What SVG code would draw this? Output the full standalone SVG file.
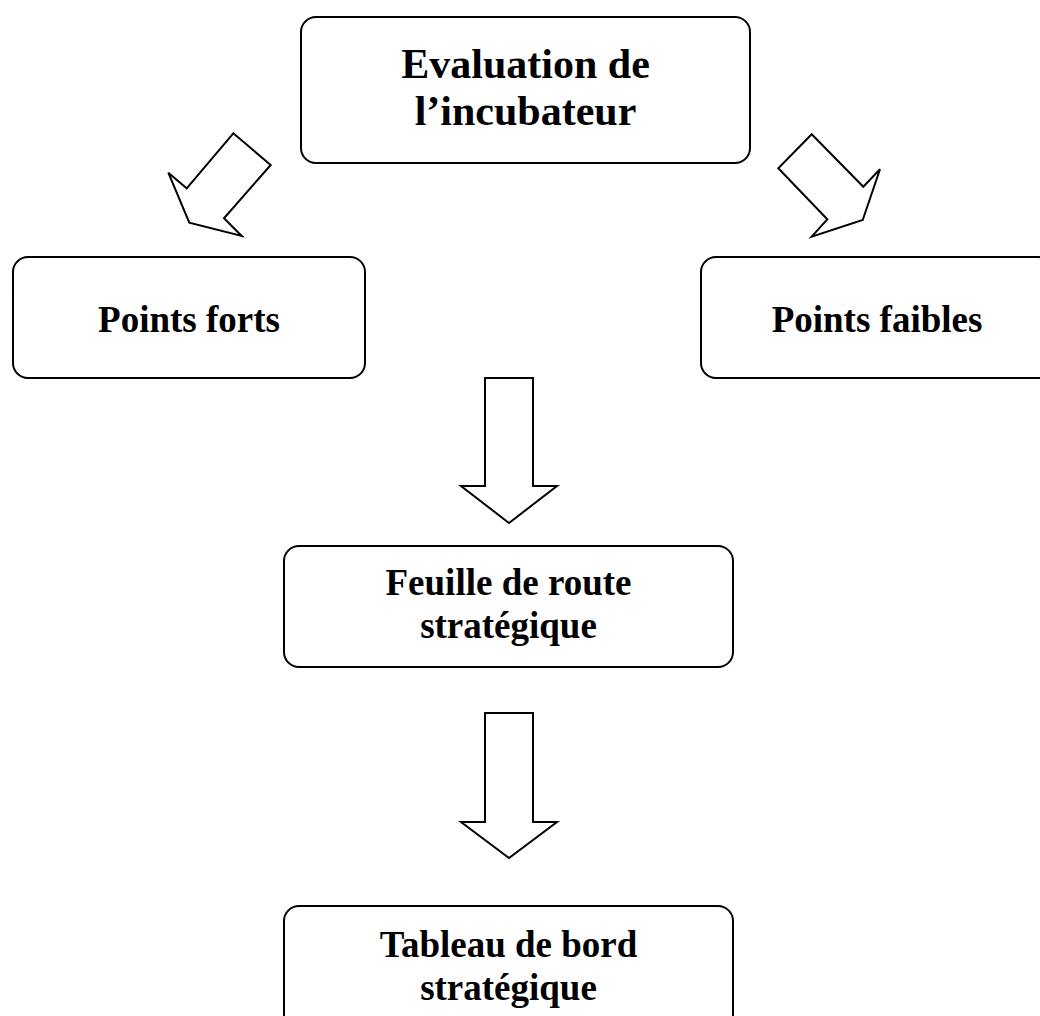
<svg xmlns="http://www.w3.org/2000/svg" width="1040" height="1016" viewBox="0 0 1040 1016">
  <style>
    .box { fill: #ffffff; stroke: #000000; stroke-width: 2; }
    .arrow { fill: #ffffff; stroke: #000000; stroke-width: 2; stroke-linejoin: miter; }
    .label { font-family: "Liberation Serif", "Times New Roman", serif; font-weight: bold; fill: #000000; text-anchor: middle; }
    .big { font-size: 42px; }
    .mid { font-size: 37px; }
  </style>
  <rect x="0" y="0" width="1040" height="1016" fill="#ffffff"/>

  <g id="connectors">
    <!-- block arrows from the evaluation box to the two branches -->
    <polygon class="arrow" points="233.3,133.3 270.7,165 224,218.3 241.7,236 189.3,222.7 168.3,172.7 186.7,188.3"/>
    <polygon class="arrow" points="811.7,134.3 778.3,168.3 827.3,219.3 811.7,236.7 862.7,220 880,169.3 863.3,186.7"/>
    <!-- downward block arrows -->
    <polygon class="arrow" points="485,378 533,378 533,486 557,486 509,523 461,486 485,486"/>
    <polygon class="arrow" points="485,713 533,713 533,822 557,822 509,858 461,822 485,822"/>
  </g>

  <g id="node-evaluation">
    <rect class="box" x="301" y="17" width="449" height="146" rx="15" ry="15"/>
    <text class="label big" x="525.5" y="78">Evaluation de</text>
    <text class="label big" x="525.5" y="125">l’incubateur</text>
  </g>

  <g id="node-points-forts">
    <rect class="box" x="13" y="257" width="352" height="121" rx="15" ry="15"/>
    <text class="label mid" x="189" y="332">Points forts</text>
  </g>

  <g id="node-points-faibles">
    <rect class="box" x="701" y="257" width="352" height="121" rx="15" ry="15"/>
    <text class="label mid" x="877" y="332">Points faibles</text>
  </g>

  <g id="node-feuille-de-route">
    <rect class="box" x="284" y="546" width="449" height="121" rx="15" ry="15"/>
    <text class="label mid" x="508.5" y="595">Feuille de route</text>
    <text class="label mid" x="508.5" y="638">stratégique</text>
  </g>

  <g id="node-tableau-de-bord">
    <rect class="box" x="284" y="906" width="449" height="130" rx="15" ry="15"/>
    <text class="label mid" x="508.5" y="957">Tableau de bord</text>
    <text class="label mid" x="508.5" y="1000">stratégique</text>
  </g>
</svg>
